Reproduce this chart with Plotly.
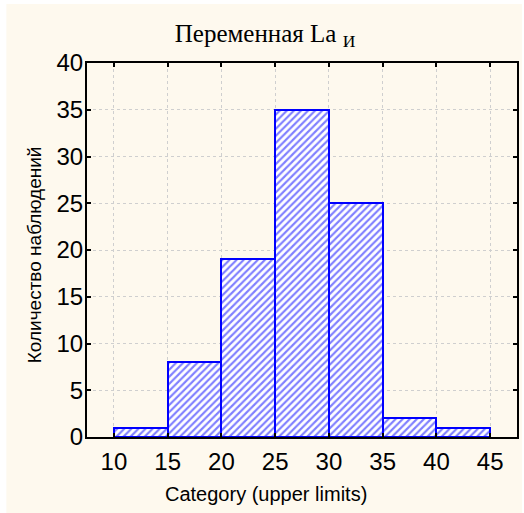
import plotly.graph_objects as go

# Histogram of variable La_И: bin upper limits and observation counts
bin_upper = [15, 20, 25, 30, 35, 40, 45]
counts = [1, 8, 19, 35, 25, 2, 1]
bin_width = 5
x_ticks = [10, 15, 20, 25, 30, 35, 40, 45]
y_ticks = [0, 5, 10, 15, 20, 25, 30, 35, 40]

title_text = "Переменная La <sub>И</sub>"
x_title = "Category (upper limits)"
y_title = "Количество наблюдений"

W, H = 524, 513
ML, MR, MT, MB = 87, 5, 63, 76
pw = W - ML - MR
ph = H - MT - MB

fig = go.Figure()
fig.add_trace(go.Bar(
    x=bin_upper,
    y=counts,
    width=bin_width,
    offset=-bin_width,
    marker=dict(
        color="white",
        line=dict(color="#0000FF", width=2),
        pattern=dict(shape="/", fgcolor="#0000FF", bgcolor="white",
                     size=5, solidity=0.42),
    ),
    showlegend=False,
))

# cream page panel behind the chart
fig.add_shape(
    type="rect", xref="paper", yref="paper", layer="below",
    x0=(6 - ML) / pw, x1=(W - ML) / pw,
    y0=-(H - MT - ph) / ph - 0.01, y1=(H - MB - 4) / ph,
    fillcolor="#FEF9EE", line=dict(width=0),
)

axis_common = dict(
    showline=True, linecolor="black", linewidth=2, mirror="ticks",
    ticks="inside", ticklen=4, tickcolor="black", tickwidth=1.5,
    showgrid=True, gridcolor="#CFCFCF", griddash="dot", gridwidth=1,
    zeroline=False,
    tickfont=dict(family="Liberation Sans, Arial", size=24, color="black"),
)

fig.update_xaxes(range=[7.5, 47.5], tickvals=x_ticks, ticklabelstandoff=2,
                 **axis_common)
fig.update_yaxes(range=[0, 40], tickvals=y_ticks, ticklabelstandoff=-3,
                 **axis_common)

fig.add_annotation(text=x_title, xref="paper", yref="paper",
                   x=(267 - ML) / pw, y=-(494 - (H - MB)) / ph,
                   xanchor="center", yanchor="middle", showarrow=False,
                   font=dict(family="Liberation Sans, Arial", size=20, color="black"))
fig.add_annotation(text=y_title, xref="paper", yref="paper",
                   x=(34 - ML) / pw, y=(H - MB - 255) / ph,
                   xanchor="center", yanchor="middle", textangle=-90, showarrow=False,
                   font=dict(family="Liberation Sans, Arial", size=19, color="black"))

fig.update_layout(
    width=W, height=H,
    margin=dict(l=ML, r=MR, t=MT, b=MB),
    paper_bgcolor="white", plot_bgcolor="white",
    title=dict(text=title_text, x=265 / W, xanchor="center",
               y=1 - 33 / H, yanchor="middle",
               font=dict(family="Liberation Serif, Times New Roman", size=25, color="black")),
    bargap=0,
)

fig.write_html("out.html")
